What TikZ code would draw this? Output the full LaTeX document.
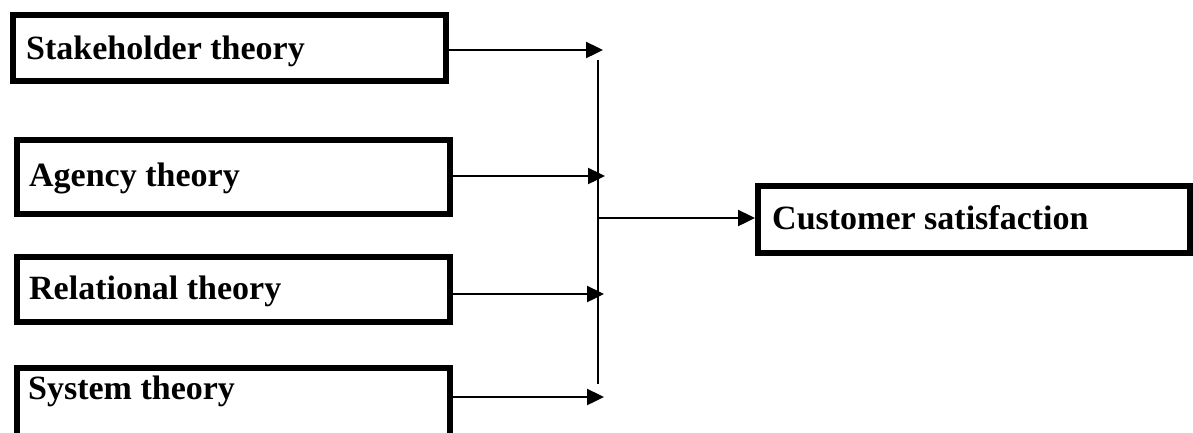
\documentclass[tikz,border=0pt]{standalone}
\usepackage{fontspec}
\setmainfont{Liberation Serif}
\usetikzlibrary{arrows.meta}
\begin{document}
\begin{tikzpicture}[x=1pt,y=-1pt,
  thbox/.style={draw=black,line width=6pt,rectangle,inner sep=0pt,fill=white},
  lbl/.style={anchor=base west,inner sep=0pt,font=\fontsize{34}{40}\selectfont\bfseries},
  arr/.style={line width=2.4pt,-{Triangle[length=17pt,width=16pt]}},
  ln/.style={line width=2.4pt}]
\useasboundingbox (0,0) rectangle (1193,432);
\node[thbox,minimum width=433pt,minimum height=66pt] (b1) at (229.5,48) {};
\node[thbox,minimum width=433pt,minimum height=74pt] (b2) at (233.5,177) {};
\node[thbox,minimum width=433pt,minimum height=65pt] (b3) at (233.5,289.5) {};
\node[thbox,minimum width=433pt,minimum height=68pt] (b4) at (233.5,402) {};
\node[thbox,minimum width=432pt,minimum height=67pt] (c) at (974,219.5) {};
\node[lbl] (t1) at (26,59) {Stakeholder theory};
\node[lbl] (t2) at (29,186) {Agency theory};
\node[lbl] (t3) at (29,299) {Relational theory};
\node[lbl] (t4) at (28,399) {System theory};
\node[lbl] (t5) at (772,229) {Customer satisfaction};
\coordinate (a1) at (603,50);
\coordinate (a2) at (605,176);
\coordinate (a3) at (604,294);
\coordinate (a4) at (604,397);
\coordinate (vt) at (598,60);
\coordinate (vb) at (598,384);
\coordinate (vm) at (598,218);
\draw[arr] (b1.east |- a1) -- (a1);
\draw[arr] (b2.east |- a2) -- (a2);
\draw[arr] (b3.east |- a3) -- (a3);
\draw[arr] (b4.east |- a4) -- (a4);
\draw[ln] (vt) -- (vb);
\draw[arr] (vm) -- (c.west |- vm);
\end{tikzpicture}
\end{document}
